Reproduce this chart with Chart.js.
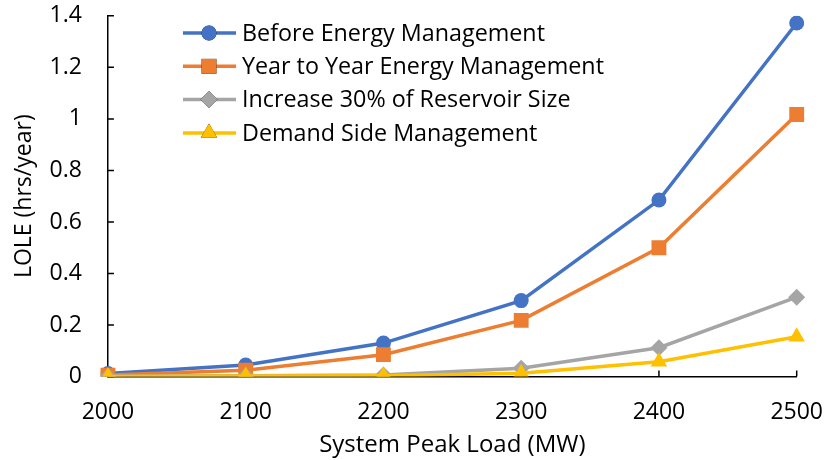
<!DOCTYPE html>
<html>
<head>
<meta charset="utf-8">
<script src="https://cdn.jsdelivr.net/npm/chart.js@4/dist/chart.umd.min.js"></script>
<style>
  body { margin: 0; background: #fff; }
  #wrap { width: 825px; height: 460px; }
</style>
</head>
<body>
<div id="wrap"><canvas id="myChart"></canvas></div>
<script>
'use strict';

let loads = ['2000', '2100', '2200', '2300', '2400', '2500'];
let seriesNames = ['Before Energy Management', 'Year to Year Energy Management',
  'Increase 30% of Reservoir Size', 'Demand Side Management'];
let beforeEM = [0.012, 0.045, 0.13, 0.295, 0.685, 1.372];
let yearToYear = [0.006, 0.025, 0.085, 0.218, 0.50, 1.017];
let reservoir = [0.001, 0.003, 0.006, 0.032, 0.112, 0.308];
let demandSide = [0.0, 0.002, 0.003, 0.013, 0.058, 0.155];
let yTicks = [0, 0.2, 0.4, 0.6, 0.8, 1, 1.2, 1.4];

let colors = ['#4472C4', '#ED7D31', '#A5A5A5', '#FFC000'];
let shapes = ['circle', 'rect', 'rectRot', 'triangle'];
let radii = [7.5, 10.5, 8.5, 9.5];
let allData = [beforeEM, yearToYear, reservoir, demandSide];

let font = "'Open Sans', sans-serif";

let datasets = [];
for (let i = 0; i < allData.length; i++) {
  datasets.push({
    label: seriesNames[i],
    data: allData[i],
    borderColor: colors[i],
    backgroundColor: colors[i],
    borderWidth: 3.5,
    pointStyle: shapes[i],
    pointRadius: radii[i],
    pointBorderWidth: 0,
    order: 3 - i
  });
}

// tick marks point into the plot, like Excel
let insideTicks = {
  id: 'insideTicks',
  beforeDatasetsDraw(chart) {
    let ctx = chart.ctx;
    let xs = chart.scales.x;
    let ys = chart.scales.y;
    let area = chart.chartArea;
    ctx.save();
    ctx.strokeStyle = '#000';
    ctx.lineWidth = 1.5;
    ctx.beginPath();
    for (let i = 0; i < loads.length; i++) {
      let px = xs.getPixelForValue(i);
      ctx.moveTo(px, area.bottom);
      ctx.lineTo(px, area.bottom - 6);
    }
    for (let v of yTicks) {
      let py = ys.getPixelForValue(v);
      ctx.moveTo(area.left, py);
      ctx.lineTo(area.left + 6, py);
    }
    ctx.stroke();
    ctx.restore();
  }
};

// legend drawn inside the plot area, like the original
let insideLegend = {
  id: 'insideLegend',
  afterDraw(chart) {
    let ctx = chart.ctx;
    ctx.save();
    ctx.font = "23.3px " + font;
    ctx.textBaseline = 'middle';
    for (let i = 0; i < seriesNames.length; i++) {
      let y = 33 + i * 33.3;
      ctx.strokeStyle = colors[i];
      ctx.lineWidth = 3.5;
      ctx.beginPath();
      ctx.moveTo(183, y);
      ctx.lineTo(236, y);
      ctx.stroke();
      Chart.helpers.drawPoint(ctx, {pointStyle: shapes[i], radius: radii[i], borderWidth: 0}, 209, y);
      ctx.fillStyle = colors[i];
      ctx.fill();
      ctx.fillStyle = '#000';
      ctx.fillText(seriesNames[i], 242, y + 1);
    }
    ctx.restore();
  }
};

// the gap between axis and labels comes from invisible outer tick marks
let hiddenGrid = (len) => ({ drawOnChartArea: false, tickLength: len, tickColor: 'rgba(0,0,0,0)' });

let ctx = document.getElementById('myChart').getContext('2d');
let myChart = new Chart(ctx, {
  type: 'line',
  data: { labels: loads, datasets: datasets },
  plugins: [insideTicks, insideLegend],
  options: {
    responsive: true,
    maintainAspectRatio: false,
    animation: false,
    layout: { padding: { top: 7, right: 27, left: 11, bottom: 0 } },
    plugins: { legend: { display: false }, tooltip: { enabled: false } },
    scales: {
      x: {
        offset: false,
        border: { color: '#000', width: 1.5 },
        grid: hiddenGrid(20),
        ticks: { color: '#000', font: { family: font, size: 23 }, padding: 2, maxRotation: 0 },
        title: { display: true, text: 'System Peak Load (MW)', color: '#000', font: { family: font, size: 24 }, padding: { top: 3, bottom: 0 } }
      },
      y: {
        min: 0,
        max: 1.4,
        afterBuildTicks(axis) { axis.ticks = yTicks.map(v => ({ value: v })); },
        border: { color: '#000', width: 1.5 },
        grid: hiddenGrid(24),
        ticks: { color: '#000', font: { family: font, size: 23 }, padding: 2, callback: v => String(v) },
        title: { display: true, text: 'LOLE (hrs/year)', color: '#000', font: { family: font, size: 23 }, padding: { top: 0, bottom: 9 } }
      }
    }
  }
});
</script>
</body>
</html>
